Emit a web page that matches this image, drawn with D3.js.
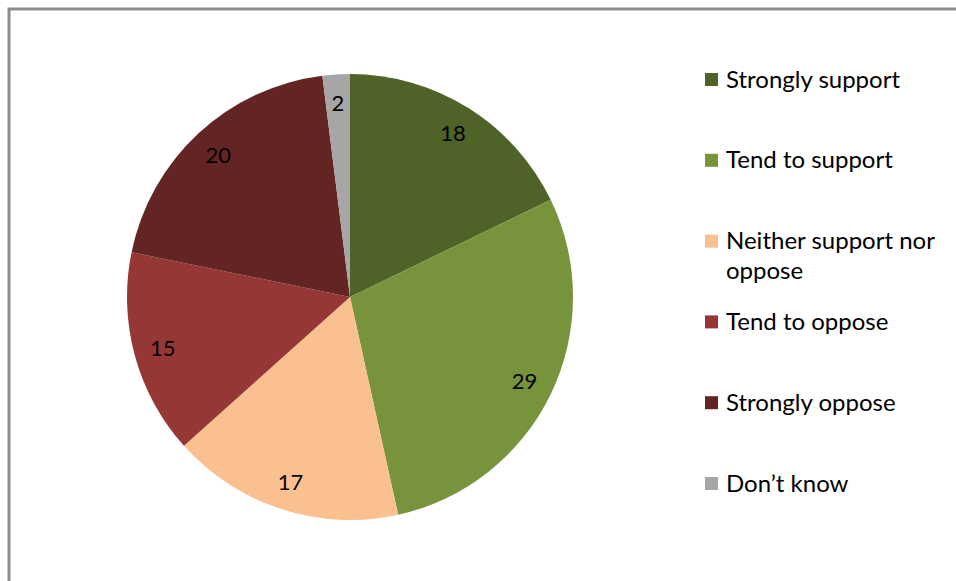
<!DOCTYPE html>
<html>
<head>
<meta charset="utf-8">
<script src="https://cdn.jsdelivr.net/npm/d3@7"></script>
<style>
  html, body { margin: 0; padding: 0; background: #fff; }
  svg { display: block; }
  text { font-family: Lato, "Open Sans", sans-serif; fill: #000; }
</style>
</head>
<body>
<svg id="chart" width="956" height="581"></svg>
<script>
// Survey responses (percent)
const categories = ["Strongly support", "Tend to support", "Neither support nor oppose",
                    "Tend to oppose", "Strongly oppose", "Don\u2019t know"];
const values = [18, 29, 17, 15, 20, 2];
const colors = ["#4f6228", "#77933c", "#fac090", "#953735", "#632523", "#a6a6a6"];
// legend text split into lines
const legendLines = [["Strongly support"], ["Tend to support"], ["Neither support nor", "oppose"],
                     ["Tend to oppose"], ["Strongly oppose"], ["Don\u2019t know"]];

const svg = d3.select("#chart");

// chart frame (open to the right and bottom)
svg.append("path")
  .attr("d", "M9,581 V9 H956")
  .attr("fill", "none")
  .attr("stroke", "#8c8c8c")
  .attr("stroke-width", 3);

const cx = 350, cy = 297, R = 223;
const color = d3.scaleOrdinal().domain(categories).range(colors);

const pie = d3.pie().sort(null).value(d => d.value);
const data = categories.map((c, i) => ({ cat: c, value: values[i] }));
const arcs = pie(data);

const arc = d3.arc().innerRadius(0).outerRadius(R);
const labelArc = d3.arc().innerRadius(194).outerRadius(194);

const g = svg.append("g").attr("transform", `translate(${cx},${cy})`);
g.selectAll("path.slice")
  .data(arcs)
  .join("path")
  .attr("class", "slice")
  .attr("d", arc)
  .attr("fill", d => color(d.data.cat));

g.selectAll("text.val")
  .data(arcs)
  .join("text")
  .attr("class", "val")
  .attr("transform", d => `translate(${labelArc.centroid(d)})`)
  .attr("text-anchor", "middle")
  .attr("dy", "0.36em")
  .attr("font-size", 22)
  .text(d => d.data.value);

// legend
const legendY = d3.scalePoint().domain(categories).range([79, 483]);
const lg = svg.append("g");
const items = lg.selectAll("g.item")
  .data(categories)
  .join("g")
  .attr("class", "item")
  .attr("transform", d => `translate(705,${legendY(d)})`);

items.append("rect")
  .attr("x", 0).attr("y", -6)
  .attr("width", 13).attr("height", 13)
  .attr("fill", d => color(d));

items.each(function(d, i) {
  const t = d3.select(this).append("text")
    .attr("x", 21)
    .attr("font-size", 24);
  legendLines[i].forEach((line, j) => {
    t.append("tspan")
      .attr("x", 21)
      .attr("y", j * 30)
      .attr("dy", "0.36em")
      .text(line);
  });
});
</script>
</body>
</html>
